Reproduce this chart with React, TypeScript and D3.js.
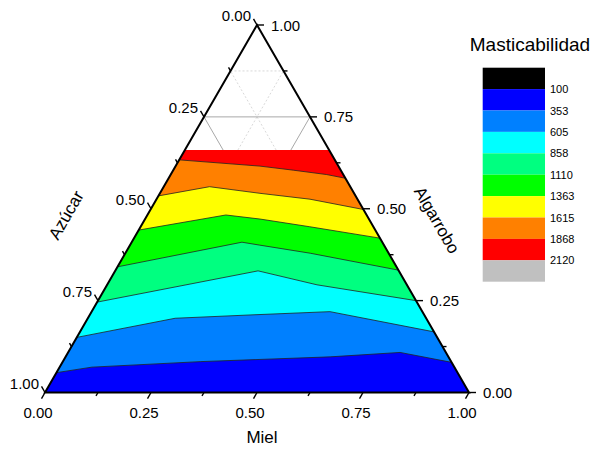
import React from 'react';
import * as d3 from 'd3';

// contour levels + colour of each band (below first level ... above last level)
const contourLevels = [100, 353, 605, 858, 1110, 1363, 1615, 1868, 2120];
const levelColors = ['#000000', '#0000ff', '#0080ff', '#00ffff', '#00ff80', '#00ff00', '#ffff00', '#ff8000', '#ff0000', '#c0c0c0'];

// isolines, points as [miel, algarrobo]
const iso353 = [[0, 0.054], [0.076, 0.069], [0.324, 0.084], [0.624, 0.097], [0.783, 0.109], [0.918, 0.082]];
const iso605 = [[0, 0.15], [0.206, 0.202], [0.378, 0.211], [0.562, 0.22], [0.835, 0.165]];
const iso858 = [[0, 0.246], [0.337, 0.331], [0.495, 0.293], [0.75, 0.25]];
const iso1110 = [[0, 0.342], [0.26, 0.409], [0.306, 0.401], [0.436, 0.379], [0.667, 0.333]];
const iso1363 = [[0, 0.442], [0.185, 0.483], [0.271, 0.472], [0.399, 0.451], [0.58, 0.42]];
const iso1615 = [[0, 0.535], [0.108, 0.56], [0.236, 0.542], [0.362, 0.526], [0.502, 0.498]];
const iso1868 = [[0, 0.633], [0.199, 0.616], [0.283, 0.605], [0.368, 0.593], [0.417, 0.583]];
const domainTop = 0.66; // algarrobo max of the fitted region

const tickValues = [0, 0.25, 0.5, 0.75, 1];
const minorValues = [0.125, 0.375, 0.625, 0.875];

const isolines = [
  {level: 1868, pts: iso1868},
  {level: 1615, pts: iso1615},
  {level: 1363, pts: iso1363},
  {level: 1110, pts: iso1110},
  {level: 858, pts: iso858},
  {level: 605, pts: iso605},
  {level: 353, pts: iso353},
];

const font = '"Liberation Sans", Arial, sans-serif';

const App = () => {
  const xScale = d3.scaleLinear().domain([0, 1]).range([45, 469]);
  const yScale = d3.scaleLinear().domain([0, 1]).range([392.5, 25]);
  // ternary -> screen, (m = miel, g = algarrobo)
  const px = (m: number, g: number) => xScale(m + g / 2);
  const py = (g: number) => yScale(g);

  const path = d3.line<number[]>().x(d => px(d[0], d[1])).y(d => py(d[1]));
  const below = (pts: number[][]) => path([...pts, [1, 0], [0, 0]]) + 'Z';

  const domain = [[0, domainTop], [1 - domainTop, domainTop], [1, 0], [0, 0]];

  // grid lines every 1/8, solid on quarters
  const grid: {x1: number; y1: number; x2: number; y2: number; major: boolean}[] = [];
  d3.range(1, 8).forEach(i => {
    const v = i / 8;
    const major = i % 2 === 0;
    grid.push({x1: px(0, v), y1: py(v), x2: px(1 - v, v), y2: py(v), major}); // algarrobo
    grid.push({x1: px(v, 0), y1: py(0), x2: px(v, 1 - v), y2: py(1 - v), major}); // miel
    grid.push({x1: px(1 - v, 0), y1: py(0), x2: px(0, 1 - v), y2: py(1 - v), major}); // azucar
  });

  const fmt = d3.format('.2f');
  const legendY = d3.scaleLinear().domain([0, levelColors.length]).range([67.7, 281.7]);

  const tick = (x: number, y: number, dx: number, dy: number, len: number, key: string) => (
    <line key={key} x1={x} y1={y} x2={x + dx * len} y2={y + dy * len} stroke="#000" strokeWidth={1.4} />
  );

  return (
    <svg width={596} height={458} style={{position: 'absolute', left: 0, top: 0}} fontFamily={font}>
      <rect width={596} height={458} fill="#fff" />
      {grid.map((l, i) => (
        <line key={i} {...l} stroke={l.major ? '#a8a8a8' : '#cfcfcf'} strokeWidth={l.major ? 1 : 0.8}
          strokeDasharray={l.major ? undefined : '2,2'} />
      ))}

      {/* filled bands, painted top down */}
      <path d={path(domain) + 'Z'} fill={levelColors[8]} />
      {isolines.map(iso => (
        <path key={'f' + iso.level} d={below(iso.pts)} fill={levelColors[contourLevels.indexOf(iso.level)]} />
      ))}
      {isolines.map(iso => (
        <path key={'l' + iso.level} d={path(iso.pts) as string} fill="none" stroke="#222" strokeWidth={0.8} />
      ))}

      {/* triangle */}
      <path d={path([[0, 0], [1, 0], [0, 1]]) + 'Z'} fill="none" stroke="#000" strokeWidth={2} strokeLinejoin="miter" />

      {/* miel (bottom) */}
      {tickValues.map(v => tick(px(v, 0), py(0), -0.5, 0.866, 7, 'bm' + v))}
      {minorValues.map(v => tick(px(v, 0), py(0), -0.5, 0.866, 4, 'bn' + v))}
      {tickValues.map(v => (
        <text key={'bt' + v} x={px(v, 0) - 7} y={py(0) + 25.5} fontSize={15} textAnchor="middle">{fmt(v)}</text>
      ))}
      {/* algarrobo (right) */}
      {tickValues.map(v => tick(px(1 - v, v), py(v), 1, 0, 7, 'rm' + v))}
      {minorValues.map(v => tick(px(1 - v, v), py(v), 1, 0, 4, 'rn' + v))}
      {tickValues.map(v => (
        <text key={'rt' + v} x={px(1 - v, v) + 14} y={py(v) + 5.5} fontSize={15}>{fmt(v)}</text>
      ))}
      {/* azucar (left) */}
      {tickValues.map(v => tick(px(0, 1 - v), py(1 - v), -0.5, -0.866, 7, 'lm' + v))}
      {minorValues.map(v => tick(px(0, 1 - v), py(1 - v), -0.5, -0.866, 4, 'ln' + v))}
      {tickValues.map(v => (
        <text key={'lt' + v} x={px(0, 1 - v) - 6} y={py(1 - v) - 4} fontSize={15} textAnchor="end">{fmt(v)}</text>
      ))}

      <text x={262} y={443} fontSize={17} textAnchor="middle">Miel</text>
      <text transform="translate(66,215) rotate(-60)" fontSize={17} textAnchor="middle" dy="0.35em">Azúcar</text>
      <text transform="translate(437,220) rotate(60)" fontSize={17} textAnchor="middle" dy="0.35em">Algarrobo</text>

      {/* legend */}
      <text x={530} y={51} fontSize={19} textAnchor="middle">Masticabilidad</text>
      {levelColors.map((c, i) => (
        <rect key={'lg' + i} x={482.7} y={legendY(i)} width={62.3} height={legendY(i + 1) - legendY(i)} fill={c} />
      ))}
      {contourLevels.map((lv, i) => (
        <text key={'ll' + lv} x={550} y={legendY(i + 1) + 4} fontSize={11}>{lv}</text>
      ))}
    </svg>
  );
};

export default App;
